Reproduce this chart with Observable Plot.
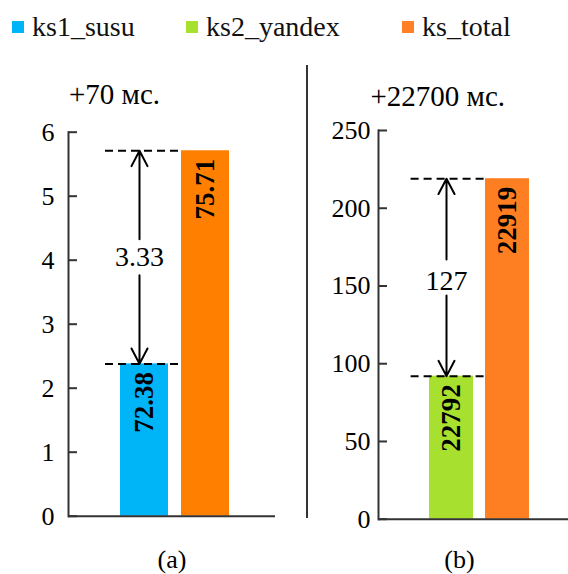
<!DOCTYPE html>
<html><head><meta charset="utf-8">
<script src="https://cdn.jsdelivr.net/npm/d3@7"></script>
<script src="https://cdn.jsdelivr.net/npm/@observablehq/plot@0.6"></script>
<style>
body{margin:0;background:#fff;}
#root{position:relative;width:568px;height:574px;overflow:hidden;font-family:"Liberation Serif","DejaVu Serif",serif;}
.legend-item{position:absolute;top:11px;height:32px;line-height:32px;display:flex;align-items:center;font-size:28px;color:#111;white-space:nowrap;}
.sw{width:12px;height:12px;margin-right:8px;flex:none;}
.panel{position:absolute;top:45px;}
.sep{position:absolute;left:306px;top:65px;width:2px;height:453px;background:#333;}
</style></head><body><div id="root"></div>
<script>
// ---- data ----
const seriesNames = ["ks1_susu", "ks2_yandex", "ks_total"];
const seriesColors = ["#00b4f8", "#a8e030", "#ff7f24"];

const aCategories = ["ks1_susu", "ks_total"];
const aValues = [72.38, 75.71];
const aColors = ["#00b4f8", "#ff8000"];
const aBase = 70;
const aTicks = [0, 1, 2, 3, 4, 5, 6];
const aTitle = "+70 мс.";
const aCaption = "(a)";

const bCategories = ["ks2_yandex", "ks_total"];
const bValues = [22792, 22919];
const bColors = ["#a8e030", "#fe7f22"];
const bBase = 22700;
const bTicks = [0, 50, 100, 150, 200, 250];
const bTitle = "+22700 мс.";
const bCaption = "(b)";

// ---- layout ----
const FONT = "'Liberation Serif', 'DejaVu Serif', serif";
const root = document.getElementById("root");
const legendLeft = [12, 186, 402];
seriesNames.forEach((name, i) => {
  const it = document.createElement("div");
  it.className = "legend-item";
  it.style.left = legendLeft[i] + "px";
  const sw = document.createElement("span");
  sw.className = "sw";
  sw.style.background = seriesColors[i];
  it.appendChild(sw);
  it.appendChild(document.createTextNode(name));
  root.appendChild(it);
});

function panel(o) {
  const rows = o.cats.map((c, i) => ({cat: c, v: o.vals[i] - o.base, label: o.vals[i].toFixed(o.decimals), color: o.colors[i]}));
  const lo = rows[0].v, hi = rows[1].v, mid = (lo + hi) / 2;
  const diff = (o.vals[1] - o.vals[0]).toFixed(o.decimals);
  const arrows = [{y1: mid, y2: hi}, {y1: mid, y2: lo}];
  const step = (o.xRange[1] - o.xRange[0]) / (o.cats.length - o.pad);
  const bw = step * (1 - o.pad);
  return Plot.plot({
    width: o.width, height: 529,
    marginLeft: o.marginLeft, marginRight: o.marginRight, marginTop: o.marginTop, marginBottom: o.marginBottom,
    style: {fontFamily: FONT, fontSize: "26px", color: "#000", background: "transparent", overflow: "visible"},
    x: {type: "band", domain: o.cats, range: o.xRange, paddingInner: o.pad, paddingOuter: 0, axis: null},
    y: {domain: [0, o.yMax], axis: null},
    marks: [
      Plot.barY(rows, {x: "cat", y: "v", fill: "color"}),
      Plot.ruleY(rows, {y: "v", x1: () => o.cats[0], x2: () => o.cats[1], insetLeft: o.dashLeft, insetRight: bw, stroke: "#000", strokeWidth: 2, strokeDasharray: "8,5"}),
      Plot.arrow(arrows, {x1: () => o.cats[0], x2: () => o.cats[0], y1: "y1", y2: "y2", dx: -5, bend: 0, insetStart: 18, headLength: 13, headAngle: 55, stroke: "#000", strokeWidth: 2}),
      Plot.text([diff], {x: () => o.cats[0], y: () => mid, text: d => d, dx: -5, dy: o.diffDy, fontSize: 28}),
      Plot.text(rows, {x: "cat", y: "v", text: "label", rotate: -90, textAnchor: "end", dy: 8, fontWeight: "bold", fontSize: 27}),
      Plot.frame({anchor: "left", stroke: "#333", strokeWidth: 2}),
      Plot.ruleY([0], {stroke: "#333", strokeWidth: 2}),
      Plot.axisY(o.ticks, {tickSize: -9, tickPadding: o.tickPadding, tickFormat: d => String(d), stroke: "#333", strokeWidth: 2, label: null}),
      Plot.text([o.title], {frameAnchor: "top", lineAnchor: "bottom", dx: o.titleDx, dy: o.titleDy, text: d => d, fontSize: 29}),
      Plot.text([o.caption], {frameAnchor: "bottom", lineAnchor: "bottom", dx: o.capDx, dy: o.capDy, text: d => d, fontSize: 26})
    ]
  });
}

const pa = panel({cats: aCategories, vals: aValues, colors: aColors, base: aBase, ticks: aTicks, yMax: 6, decimals: 2,
  title: aTitle, caption: aCaption, width: 290, marginLeft: 68, marginRight: 15, marginTop: 86.7, marginBottom: 58.3,
  xRange: [120, 229.5], pad: 0.21, dashLeft: -15, tickPadding: 23, diffDy: 0,
  titleDx: -57.5, titleDy: -28.4, capDx: 0, capDy: 52});
pa.classList.add("panel"); pa.style.left = "0px";
root.appendChild(pa);

const sep = document.createElement("div");
sep.className = "sep";
root.appendChild(sep);

const pb = panel({cats: bCategories, vals: bValues, colors: bColors, base: bBase, ticks: bTicks, yMax: 250, decimals: 0,
  title: bTitle, caption: bCaption, width: 278, marginLeft: 88, marginRight: 0, marginTop: 85, marginBottom: 55.3,
  xRange: [137.7, 239.3], pad: 0.215, dashLeft: -18.4, tickPadding: 17, diffDy: 4,
  titleDx: -35.7, titleDy: -25, capDx: -14, capDy: 49});
pb.classList.add("panel"); pb.style.left = "290px";
root.appendChild(pb);
</script></body></html>
